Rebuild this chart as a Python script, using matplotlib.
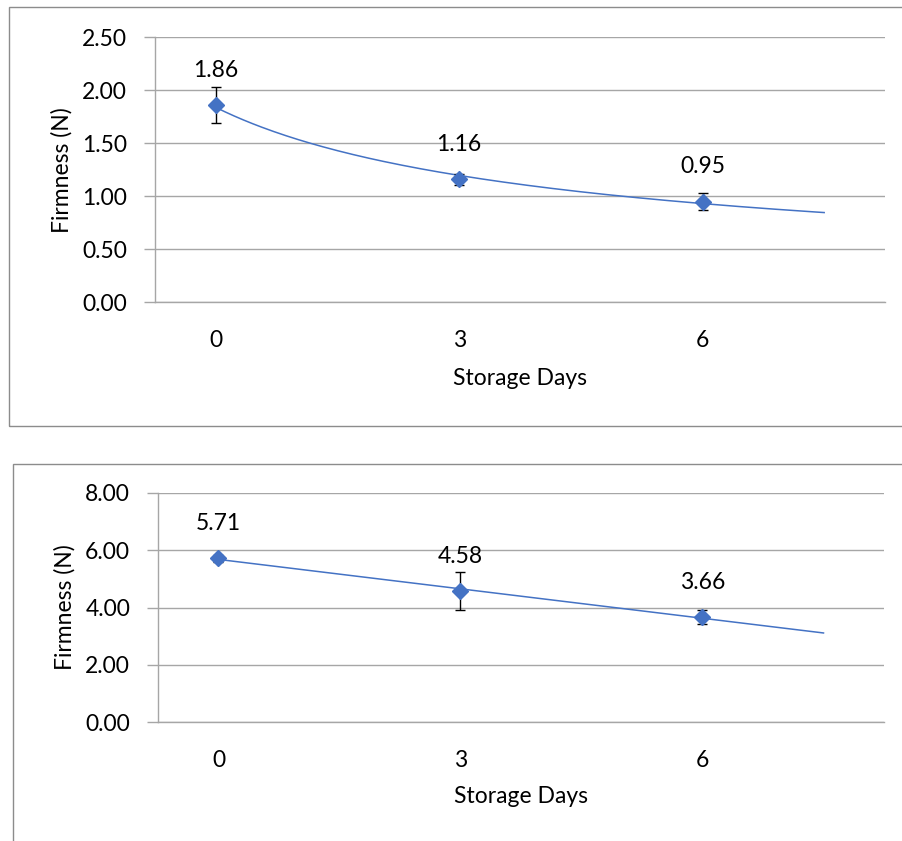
import numpy as np
import matplotlib
matplotlib.use("Agg")
import matplotlib.pyplot as plt
from matplotlib.patches import Rectangle

plt.rcParams['font.family'] = ['Lato', 'DejaVu Sans']

# ---- data ----
days = ["0", "3", "6"]
firm_top = [1.86, 1.16, 0.95]
err_top = [0.17, 0.05, 0.08]
firm_bot = [5.71, 4.58, 3.66]
err_bot = [0.12, 0.66, 0.24]
yticks_top = [0.0, 0.5, 1.0, 1.5, 2.0, 2.5]
yticks_bot = [0.0, 2.0, 4.0, 6.0, 8.0]

BLUE = "#4472C4"
GRID = "#a6a6a6"
BOX = "#8c8c8c"
FS = 16.5

W, H = 903, 841
fig = plt.figure(figsize=(W / 100, H / 100), dpi=100)

def fx(px):
    return px / W

def fy(py):
    return 1 - py / H

# chart borders
fig.patches.append(Rectangle((fx(9.5), fy(426)), fx(905 - 9.5), fy(6.5) - fy(426),
                             transform=fig.transFigure, fill=False, ec=BOX, lw=1))
fig.patches.append(Rectangle((fx(13), fy(845)), fx(905 - 13), fy(463.5) - fy(845),
                             transform=fig.transFigure, fill=False, ec=BOX, lw=1))


def make(ax, vals, errs, yticks, kind, xlab_y, ylab_x):
    x = np.arange(len(vals))
    ax.set_xlim(-0.25, 2.75)
    ax.set_ylim(yticks[0], yticks[-1])
    ax.set_yticks(yticks)
    ax.set_yticklabels([f"{t:.2f}" for t in yticks], fontsize=FS)
    ax.set_xticks(x)
    ax.set_xticklabels(days, fontsize=FS)
    for s in ["top", "right"]:
        ax.spines[s].set_visible(False)
    for s in ["left", "bottom"]:
        ax.spines[s].set_color(GRID)
        ax.spines[s].set_linewidth(1)
    ax.tick_params(axis="y", length=8, color=GRID, width=1, pad=12)
    ax.tick_params(axis="x", length=0, pad=20)
    ax.grid(axis="y", color=GRID, lw=1)
    ax.set_axisbelow(True)

    # trendline (Excel style, x = 1..n, forward 0.5 period)
    xe = x + 1.0
    xs = np.linspace(1, len(vals) + 0.5, 200)
    if kind == "power":
        b, lna = np.polyfit(np.log(xe), np.log(vals), 1)
        ys = np.exp(lna) * xs ** b
    else:
        m, c = np.polyfit(xe, vals, 1)
        ys = m * xs + c
    ax.plot(xs - 1, ys, color=BLUE, lw=1.1, zorder=3)

    ax.errorbar(x, vals, yerr=errs, fmt="none", ecolor="black", elinewidth=1,
                capsize=3.6, capthick=1, zorder=4)
    ax.plot(x, vals, ls="none", marker="D", ms=8, color=BLUE, zorder=5)

    for xi, v in zip(x, vals):
        ax.annotate(f"{v:.2f}", (xi, v), xytext=(0, 25), textcoords="offset points",
                    ha="center", va="center", fontsize=FS)

    ax.set_xlabel("Storage Days", fontsize=FS)
    ax.xaxis.set_label_coords(0.5, xlab_y)
    ax.xaxis.label.set_va("center")
    ax.set_ylabel("Firmness (N)", fontsize=FS)
    ax.yaxis.set_label_coords(ylab_x, 0.5)
    ax.yaxis.label.set_va("center")


ax1 = fig.add_axes([fx(155), fy(302.3), fx(885 - 155), fy(37.3) - fy(302.3)])
make(ax1, firm_top, err_top, yticks_top, "power", -0.286, -0.127)

ax2 = fig.add_axes([fx(158), fy(722.3), fx(884 - 158), fy(492.7) - fy(722.3)])
make(ax2, firm_bot, err_bot, yticks_bot, "linear", -0.325, -0.128)

fig.savefig("out.png", dpi=100)
